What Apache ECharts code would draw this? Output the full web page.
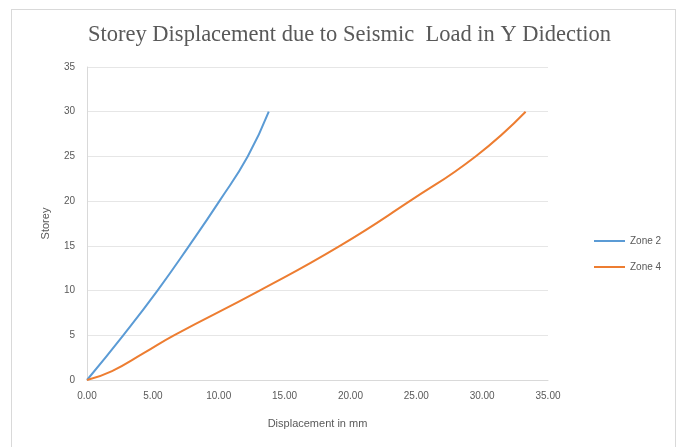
<!DOCTYPE html>
<html>
<head>
<meta charset="utf-8">
<script src="https://cdn.jsdelivr.net/npm/echarts@6/dist/echarts.min.js"></script>
<style>
html,body{margin:0;padding:0;background:#fff;}
#frame{position:absolute;left:11px;top:9px;width:665px;height:450px;border:1px solid #d9d9d9;box-sizing:border-box;}
#chart{position:absolute;left:0;top:0;width:686px;height:447px;}
</style>
</head>
<body>
<div id="frame"></div>
<div id="chart"></div>
<script>
var titleText = 'Storey Displacement due to Seismic  Load in Y Didection';
var xAxisName = 'Displacement in mm';
var yAxisName = 'Storey';
var seriesNames = ['Zone 2', 'Zone 4'];
var zone2Storey = [0, 5, 10, 15, 20, 25, 30];
var zone2Disp = [0, 2.75, 5.35, 7.75, 10.05, 12.2, 13.8];
var zone4Storey = [0, 1, 3, 5, 10, 15, 20, 25, 30];
var zone4Disp = [0, 1.9, 4.3, 6.6, 13.1, 19.2, 24.5, 29.5, 33.3];

function pairs(xs, ys){ return xs.map(function(x,i){ return [x, ys[i]]; }); }

var chart = echarts.init(document.getElementById('chart'), null, {renderer:'canvas'});
var grey = '#595959';
chart.setOption({
  animation:false,
  backgroundColor:'transparent',
  title:{
    text:titleText, left:83, top:19,
    textStyle:{fontFamily:'Liberation Serif', fontWeight:'normal', fontSize:22.5, color:grey}
  },
  legend:{
    orient:'vertical', left:589, top:231, itemGap:16, itemWidth:31, itemHeight:2, icon:'rect',
    textStyle:{fontFamily:'Liberation Sans', fontSize:10, color:grey},
    data:seriesNames
  },
  grid:{left:87, right:138, top:67, bottom:67},
  xAxis:{
    type:'value', min:0, max:35, interval:5,
    name:xAxisName, nameLocation:'middle', nameGap:38,
    nameTextStyle:{fontFamily:'Liberation Sans', fontSize:11, color:grey},
    axisLine:{show:true, lineStyle:{color:'#d9d9d9'}},
    axisTick:{show:false},
    axisLabel:{margin:11, fontFamily:'Liberation Sans', fontSize:10, color:grey, formatter:function(v){return v.toFixed(2);}},
    splitLine:{show:false}
  },
  yAxis:{
    type:'value', min:0, max:35, interval:5,
    name:yAxisName, nameLocation:'middle', nameGap:36, nameRotate:90,
    nameTextStyle:{fontFamily:'Liberation Sans', fontSize:11, color:grey},
    axisLine:{show:true, lineStyle:{color:'#d9d9d9'}},
    axisTick:{show:false},
    axisLabel:{margin:12, fontFamily:'Liberation Sans', fontSize:10, color:grey},
    splitLine:{show:true, lineStyle:{color:'#e6e6e6'}}
  },
  series:[
    {name:seriesNames[0], type:'line', smooth:0.5, symbol:'none', data:pairs(zone2Disp, zone2Storey),
     lineStyle:{color:'#5b9bd5', width:2}, itemStyle:{color:'#5b9bd5'}},
    {name:seriesNames[1], type:'line', smooth:0.5, symbol:'none', data:pairs(zone4Disp, zone4Storey),
     lineStyle:{color:'#ed7d31', width:2}, itemStyle:{color:'#ed7d31'}}
  ]
});
</script>
</body>
</html>
